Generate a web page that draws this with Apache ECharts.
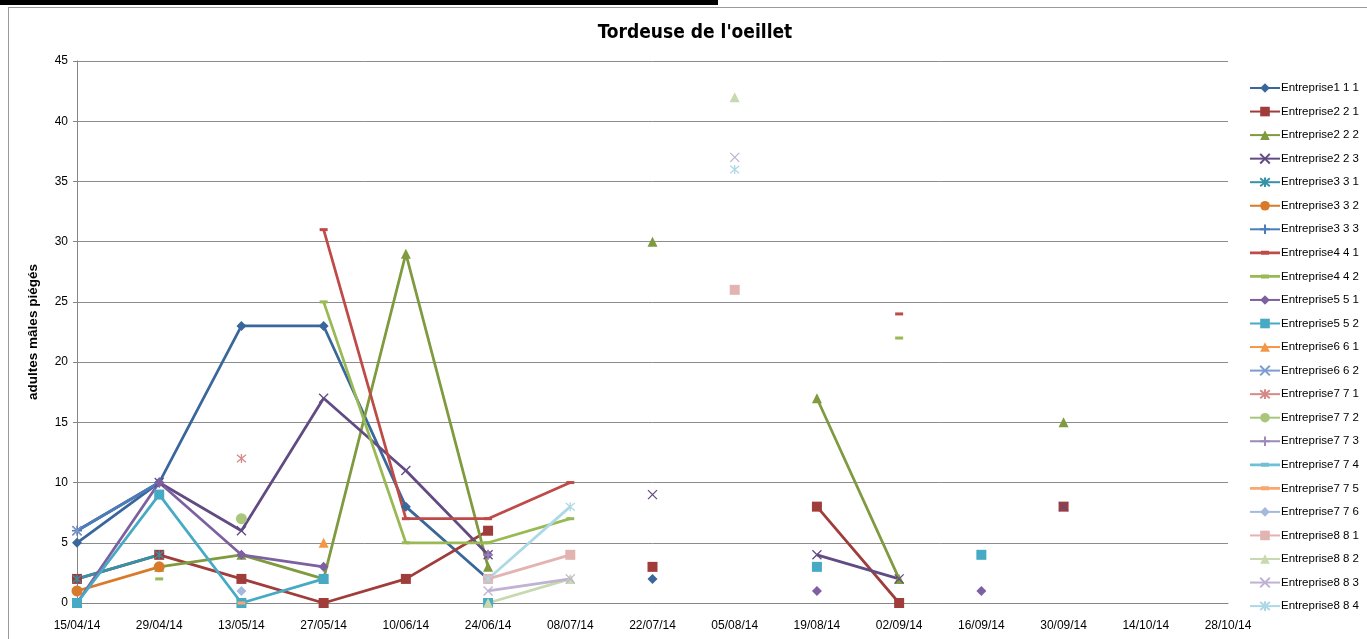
<!DOCTYPE html>
<html>
<head>
<meta charset="utf-8">
<script src="https://cdn.jsdelivr.net/npm/echarts@6/dist/echarts.min.js"></script>
<style>
html,body{margin:0;padding:0;background:#fff;}
#bar{position:absolute;left:0;top:0;width:718px;height:5px;background:#000;}
#frame{position:absolute;left:8px;top:7px;width:1370px;height:640px;border-left:1px solid #9a9a9a;border-top:1px solid #9a9a9a;box-sizing:border-box;}
#chart{position:absolute;left:0;top:0;width:1367px;height:639px;}
</style>
</head>
<body>
<div id="bar"></div>
<div id="frame"></div>
<div id="chart"></div>
<script>
const categories = ['15/04/14','29/04/14','13/05/14','27/05/14','10/06/14','24/06/14','08/07/14','22/07/14','05/08/14','19/08/14','02/09/14','16/09/14','30/09/14','14/10/14','28/10/14'];
const yTicks = [0,5,10,15,20,25,30,35,40,45];
const seriesNames = ['Entreprise1 1 1','Entreprise2 2 1','Entreprise2 2 2','Entreprise2 2 3','Entreprise3 3 1','Entreprise3 3 2','Entreprise3 3 3','Entreprise4 4 1','Entreprise4 4 2','Entreprise5 5 1','Entreprise5 5 2','Entreprise6 6 1','Entreprise6 6 2','Entreprise7 7 1','Entreprise7 7 2','Entreprise7 7 3','Entreprise7 7 4','Entreprise7 7 5','Entreprise7 7 6','Entreprise8 8 1','Entreprise8 8 2','Entreprise8 8 3','Entreprise8 8 4'];
const _ = null;
const e111 = [5,10,23,23,8,2,_,2,_,_,_,_,_,_,_];
const e221 = [2,4,2,0,2,6,_,3,_,8,0,_,8,_,_];
const e222 = [_,3,4,2,29,3,_,30,_,17,2,_,15,_,_];
const e223 = [6,10,6,17,11,4,_,9,_,4,2,_,8,_,_];
const e331 = [2,4,_,_,_,_,_,_,_,_,_,_,_,_,_];
const e332 = [1,3,_,_,_,_,_,_,_,_,_,_,_,_,_];
const e333 = [6,10,_,_,_,_,_,_,_,_,_,_,_,_,_];
const e441 = [_,_,_,31,7,7,10,_,_,_,24,_,_,_,_];
const e442 = [_,2,_,25,5,5,7,_,_,_,22,_,_,_,_];
const e551 = [0,10,4,3,_,4,_,_,_,1,_,1,_,_,_];
const e552 = [0,9,0,2,_,0,_,_,_,3,_,4,_,_,_];
const e661 = [_,_,_,5,_,_,_,_,_,_,_,_,_,_,_];
const e662 = [6,_,_,_,_,_,_,_,_,_,_,_,_,_,_];
const e771 = [_,_,12,_,_,_,_,_,_,_,_,_,_,_,_];
const e772 = [_,_,7,_,_,_,_,_,_,_,_,_,_,_,_];
const e773 = [_,_,_,_,_,4,_,_,_,_,_,_,_,_,_];
const e774 = [_,_,_,_,_,_,_,_,_,_,_,_,_,_,_];
const e775 = [_,_,0,_,_,_,_,_,_,_,_,_,_,_,_];
const e776 = [_,_,1,_,_,_,_,_,_,_,_,_,_,_,_];
const e881 = [_,_,_,_,_,2,4,_,26,_,_,_,_,_,_];
const e882 = [_,_,_,_,_,0,2,_,42,_,_,_,_,_,_];
const e883 = [_,_,_,_,_,1,2,_,37,_,_,_,_,_,_];
const e884 = [_,_,_,_,_,2,8,_,36,_,_,_,_,_,_];
const seriesData = [e111,e221,e222,e223,e331,e332,e333,e441,e442,e551,e552,e661,e662,e771,e772,e773,e774,e775,e776,e881,e882,e883,e884];

const colors = ['#3a679b','#a03c3a','#7f9a3f','#624b83','#3592a8','#d87a2a','#4a7ebb','#be4b48','#98b954','#7d60a0','#46aac4','#f59647','#7d9cd0','#d68a88','#a9c67c','#9e8ab9','#6ec0d6','#f8a86e','#a5b9de','#e3b3b2','#c7d9ae','#bfb2d2','#add8e5'];
const X = 'path://M0,0L10,10M10,0L0,10';
const STAR = 'path://M0,0L10,10M10,0L0,10M5,-1L5,11';
const PLUS = 'path://M5,0L5,10M0,5L10,5';
const DASH = 'dash';
const DASH_ICON = 'path://M0,0L0,0M30,12L30,12M0,4.6L11,4.6L11,4L19,4L19,4.6L30,4.6L30,7.4L19,7.4L19,8L11,8L11,7.4L0,7.4Z';
const sym = ['diamond','rect','triangle',X,STAR,'circle',PLUS,DASH,DASH,'diamond','rect','triangle',X,STAR,'circle',PLUS,DASH,DASH,'diamond','rect','triangle',X,STAR];
const symSize = [10,10,10,9,9,11,10,[8,3],[8,3],10,10,10,9,9,11,10,[8,3],[8,3],10,10,10,9,9];
const stroked = s => (s===X||s===STAR||s===PLUS);

const series = seriesNames.map((n,i)=>({
  name:n, type:'line', data:seriesData[i], symbol: sym[i]===DASH ? 'rect' : sym[i], symbolSize:symSize[i],
  showAllSymbol:true, connectNulls:false,
  lineStyle:{color:colors[i], width:2.75},
  itemStyle: stroked(sym[i]) ? {color:colors[i], borderColor:colors[i], borderWidth:1.3} : {color:colors[i], borderWidth:0},
  emphasis:{disabled:true}, animation:false
}));

const legendData = seriesNames.map((n,i)=> sym[i]===DASH ? {name:n, icon:DASH_ICON} : {name:n});

const chart = echarts.init(document.getElementById('chart'));
chart.setOption({
  animation:false,
  title:{text:"Tordeuse de l'oeillet", left:690, top:19, textAlign:'center',
    textStyle:{fontFamily:'DejaVu Sans Condensed', fontWeight:'bold', fontSize:19, color:'#000'}},
  grid:{left:77, right:139, top:61, bottom:36, containLabel:false},
  legend:{orient:'vertical', left:1244, top:77, itemWidth:30, itemHeight:12, itemGap:11.55,
    textStyle:{fontFamily:'Liberation Sans', fontSize:11.5, color:'#000', padding:[0,0,0,-4]},
    data:legendData},
  xAxis:{type:'category', data:categories, boundaryGap:false,
    axisLine:{lineStyle:{color:'#868686'}}, axisTick:{show:false},
    axisLabel:{fontFamily:'Liberation Sans', fontSize:12, color:'#000', margin:17, interval:0}},
  yAxis:{type:'value', min:0, max:45, interval:5,
    name:'adultes mâles piégés', nameLocation:'middle', nameGap:37,
    nameTextStyle:{fontFamily:'Liberation Sans', fontWeight:'bold', fontSize:13.5, color:'#000'},
    axisLine:{show:true, lineStyle:{color:'#868686'}}, axisTick:{show:true, length:4, lineStyle:{color:'#868686'}},
    splitLine:{lineStyle:{color:'#8c8c8c', width:1}},
    axisLabel:{fontFamily:'Liberation Sans', fontSize:12, color:'#000', margin:9,
      formatter: v => yTicks.includes(v) ? String(v) : ''}},
  series:series
});
</script>
</body>
</html>
